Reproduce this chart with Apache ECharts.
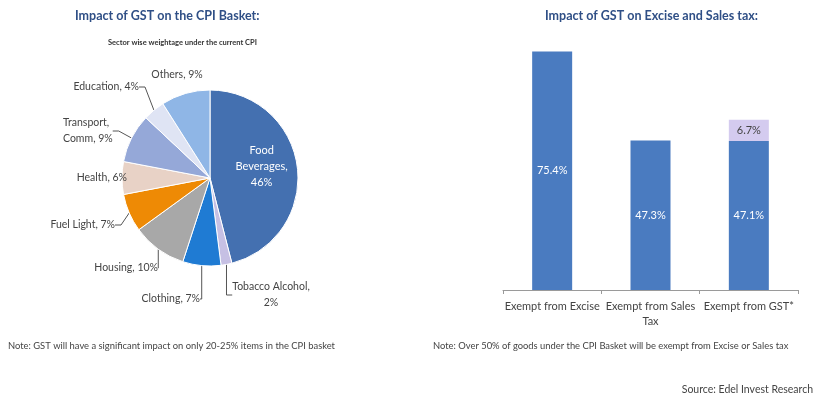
<!DOCTYPE html>
<html>
<head>
<meta charset="utf-8">
<script src="https://cdn.jsdelivr.net/npm/echarts@6/dist/echarts.min.js"></script>
<style>
  html, body { margin: 0; padding: 0; background: #fff; }
  #chart { width: 814px; height: 395px; }
</style>
</head>
<body>
<div id="chart"></div>
<script>
// CPI basket weights by sector (%), clockwise from 12 o'clock
const sectorNames = ['Food Beverages', 'Tobacco Alcohol', 'Clothing', 'Housing', 'Fuel Light',
                     'Health', 'Transport, Comm', 'Education', 'Others'];
const sectorWeights = [46, 2, 7, 10, 7, 6, 9, 4, 9];
const sectorColors = ['#4470b0', '#c6c0e4', '#1f7bd3', '#a8a8a8', '#ee8a05',
                      '#e8d2c6', '#95a8d8', '#dfe4f4', '#8fb6e6'];

// Share of goods exempt from each tax (%)
const taxCategories = ['Exempt from Excise', 'Exempt from Sales Tax', 'Exempt from GST*'];
const exemptShare = [75.4, 47.3, 47.1];
const gstAddedShare = [null, null, 6.7];

const FONT = 'Lato, "Open Sans", sans-serif';

// how each pie label is broken into lines
const pieLabelText = {
  'Food Beverages':  (v) => 'Food\nBeverages,\n' + v + '%',
  'Tobacco Alcohol': (v) => 'Tobacco Alcohol,\n' + v + '%',
  'Transport, Comm': (v) => 'Transport,\nComm, ' + v + '%'
};

// where each pie label sits around the pie
const pieLabelSpots = {
  'Others':          { x: 177, y: 75,  align: 'center' },
  'Education':       { x: 139, y: 87,  align: 'right' },
  'Transport, Comm': { x: 63,  y: 131, align: 'left' },
  'Health':          { x: 127, y: 178, align: 'right' },
  'Fuel Light':      { x: 115, y: 225, align: 'right' },
  'Housing':         { x: 158, y: 268, align: 'right' },
  'Clothing':        { x: 200, y: 299, align: 'right' },
  'Tobacco Alcohol': { x: 271, y: 295, align: 'center' }
};

const pieData = sectorNames.map((n, i) => {
  const item = { name: n, value: sectorWeights[i], itemStyle: { color: sectorColors[i] } };
  if (i === 0) {
    item.label = { position: 'inside', color: '#fff', fontSize: 11, lineHeight: 16,
                   offset: [5, -6] };
  }
  if (n === 'Others' || n === 'Health') item.labelLine = { show: false };
  return item;
});

const chart = echarts.init(document.getElementById('chart'), null, { renderer: 'canvas' });

const titleStyle = (size, weight, color) =>
  ({ fontFamily: FONT, fontSize: size, fontWeight: weight, color: color });

chart.setOption({
  animation: false,
  textStyle: { fontFamily: FONT },
  title: [
    { text: 'Impact of GST on the CPI Basket:', left: 75, top: 9, padding: 0,
      textStyle: titleStyle(12.5, 'bold', '#2f4f86') },
    { text: 'Sector wise weightage under the current CPI', left: 108, top: 39, padding: 0,
      textStyle: titleStyle(7.5, 'bold', '#333') },
    { text: 'Impact of GST on Excise and Sales tax:', left: 545, top: 9, padding: 0,
      textStyle: titleStyle(12.5, 'bold', '#2f4f86') },
    { text: 'Note: GST will have a significant impact on only 20-25% items in the CPI basket',
      left: 8, top: 341, padding: 0, textStyle: titleStyle(9.4, 'normal', '#444') },
    { text: 'Note: Over 50% of goods under the CPI Basket will be exempt from Excise or Sales tax',
      left: 433, top: 341, padding: 0, textStyle: titleStyle(9.4, 'normal', '#444') },
    { text: 'Source: Edel Invest Research', right: 1, top: 384, padding: 0,
      textStyle: titleStyle(10.5, 'normal', '#444') }
  ],
  grid: { left: 503, right: 16, top: 37, bottom: 105 },
  xAxis: {
    type: 'category',
    data: taxCategories,
    axisLine: { lineStyle: { color: '#9a9a9a' } },
    axisTick: { show: true, length: 4, lineStyle: { color: '#9a9a9a' } },
    axisLabel: { color: '#444', fontSize: 11, margin: 9, lineHeight: 15, fontFamily: FONT,
                 interval: 0, formatter: v => v.replace(' Tax', '\nTax') }
  },
  yAxis: { type: 'value', min: 0, max: 80, show: false, splitLine: { show: false } },
  series: [
    {
      type: 'pie',
      center: [210, 178],
      radius: 88,
      startAngle: 90,
      clockwise: true,
      data: pieData,
      itemStyle: { borderColor: '#fff', borderWidth: 1 },
      label: {
        show: true,
        fontSize: 10.5,
        color: '#444',
        lineHeight: 16,
        fontFamily: FONT,
        formatter: p => pieLabelText[p.name] ? pieLabelText[p.name](p.value)
                                             : p.name + ', ' + p.value + '%'
      },
      labelLine: { show: true, length: 8, length2: 6, smooth: false,
                   lineStyle: { color: '#555', width: 1 } },
      labelLayout: function (params) {
        const spot = pieLabelSpots[sectorNames[params.dataIndex]];
        if (!spot) return {};
        return { x: spot.x, y: spot.y, align: spot.align, verticalAlign: 'middle' };
      }
    },
    {
      type: 'bar',
      stack: 'exempt',
      data: exemptShare,
      barWidth: 40,
      itemStyle: { color: '#4a7bc0' },
      label: { show: true, position: 'inside', color: '#fff', fontSize: 11, fontFamily: FONT,
               formatter: p => p.value + '%' }
    },
    {
      type: 'bar',
      stack: 'exempt',
      data: gstAddedShare,
      barWidth: 40,
      itemStyle: { color: '#d4cbef' },
      label: { show: true, position: 'inside', color: '#444', fontSize: 11, fontFamily: FONT,
               formatter: p => p.value + '%' }
    }
  ]
});
</script>
</body>
</html>
